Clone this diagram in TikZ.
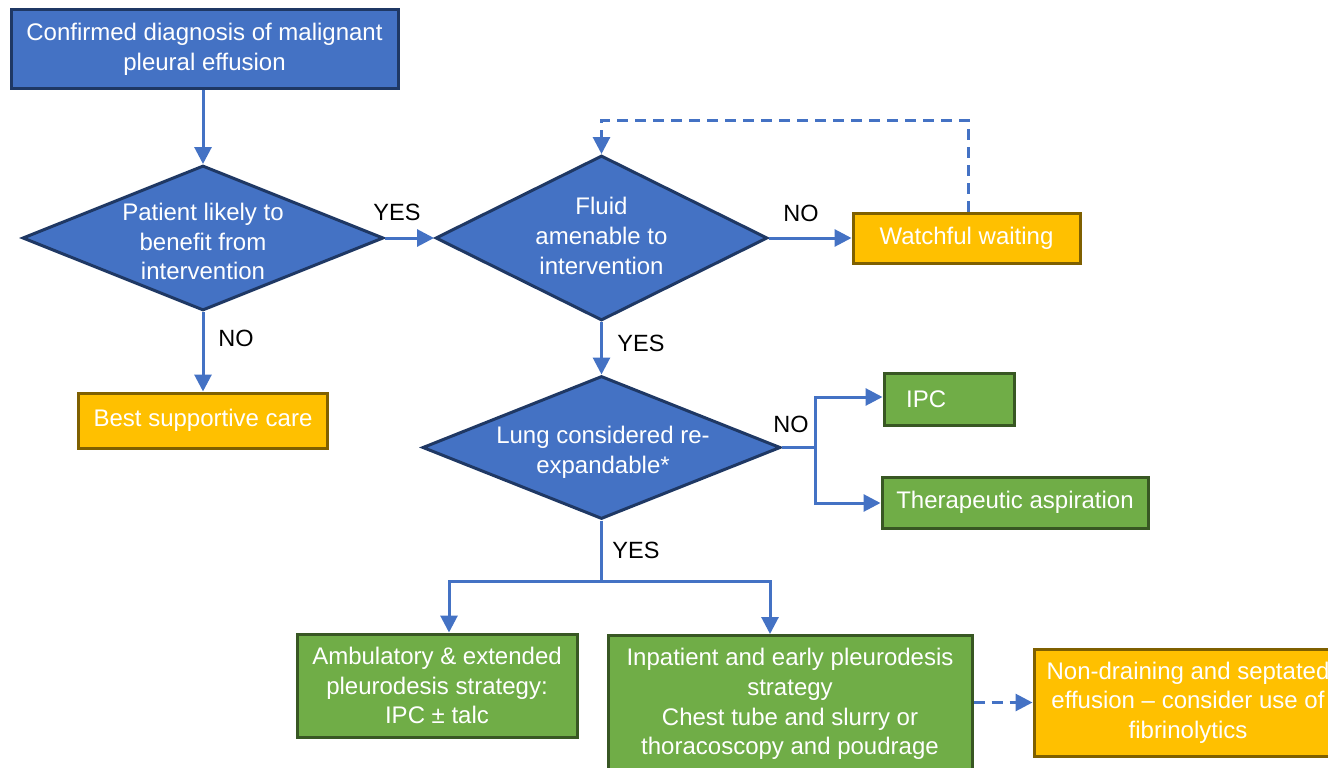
\documentclass[tikz,border=0pt]{standalone}
\usepackage{fontspec}
\setmainfont{Liberation Sans}
\usetikzlibrary{shapes.geometric,arrows.meta}
\definecolor{bfill}{HTML}{4472C4}
\definecolor{bdark}{HTML}{1F3864}
\definecolor{ofill}{HTML}{FFC000}
\definecolor{odark}{HTML}{7F6000}
\definecolor{gfill}{HTML}{70AD47}
\definecolor{gdark}{HTML}{385723}
\tikzset{
  base/.style={draw, line width=3pt, inner sep=0pt, text=white, align=center,
    font=\fontsize{24}{29.6}\selectfont},
  bluebox/.style={base, rectangle, fill=bfill, draw=bdark},
  orangebox/.style={base, rectangle, fill=ofill, draw=odark},
  greenbox/.style={base, rectangle, fill=gfill, draw=gdark},
  decision/.style={draw=bdark, fill=bfill, line width=3pt, shape=diamond, inner sep=0pt},
  dtext/.style={text=white, align=center, font=\fontsize{24}{29.6}\selectfont, inner sep=0pt},
  lbl/.style={text=black, font=\fontsize{23.5}{28}\selectfont, inner sep=0pt},
  arr/.style={draw=bfill, line width=3pt, -{Triangle[length=17pt,width=17pt]}},
  ln/.style={draw=bfill, line width=3pt},
  dsh/.style={dash pattern=on 11pt off 7pt}
}
\begin{document}
\begin{tikzpicture}[x=1pt,y=-1pt]
\useasboundingbox (0,0) rectangle (1328,768);
\clip (0,0) rectangle (1328,768);

% nodes
\node[bluebox, minimum width=387pt, minimum height=78pt] (box1) at (204.5,49)
  {\raisebox{-2pt}{\parbox{380pt}{\centering Confirmed diagnosis of malignant\\pleural effusion}}};

\node[decision, minimum width=361pt, minimum height=145pt] (d1) at (203,238) {};
\node[dtext] (t1) at (203,241.5) {Patient likely to\\benefit from\\intervention};

\node[decision, minimum width=332pt, minimum height=165pt] (d2) at (601.5,238) {};
\node[dtext] (t2) at (601.5,236) {Fluid\\amenable to\\intervention};

\node[orangebox, minimum width=227pt, minimum height=50pt] (ww) at (966.5,238) {\raisebox{-1.5pt}{Watchful waiting}};

\node[orangebox, minimum width=249pt, minimum height=55pt] (bsc) at (203,420.5) {\raisebox{-1.5pt}{Best supportive care}};

\node[decision, minimum width=358pt, minimum height=143pt] (d3) at (601.5,447.5) {};
\node[dtext] (t3) at (603,452) {Lung considered re-\\expandable*};

\node[greenbox, minimum width=130pt, minimum height=52pt] (ipc) at (949,399) {};
\node[dtext, anchor=west] (ipct) at (906,399) {IPC};

\node[greenbox, minimum width=266pt, minimum height=51pt] (ta) at (1015,502.5) {\raisebox{-1.5pt}{Therapeutic aspiration}};

\node[greenbox, minimum width=280pt, minimum height=103pt] (amb) at (437,685.5)
  {\raisebox{-1.5pt}{\parbox{276pt}{\centering Ambulatory \& extended\\pleurodesis strategy:\\IPC ± talc}}};

\node[greenbox, minimum width=364pt, minimum height=137pt] (inp) at (790,704)
  {\parbox{360pt}{\centering Inpatient and early pleurodesis\\strategy\\Chest tube and slurry or\\thoracoscopy and poudrage}};

\node[orangebox, minimum width=308pt, minimum height=107pt] (nd) at (1188,702.5)
  {\raisebox{-1.5pt}{\parbox{304pt}{\centering Non-draining and septated\\effusion – consider use of\\fibrinolytics}}};

% labels
\node[lbl] (l1) at (397,212) {YES};
\node[lbl] (l2) at (236,338) {NO};
\node[lbl] (l3) at (801,213) {NO};
\node[lbl] (l4) at (641,343) {YES};
\node[lbl] (l5) at (791,424) {NO};
\node[lbl] (l6) at (636,550) {YES};

% coordinates
\coordinate (loop) at (968,120);
\coordinate (br) at (815,447.5);
\coordinate (bj) at (601.5,581);

% connectors
\draw[arr] (box1.south -| d1.north) -- (d1.north);
\draw[arr] (d1.east) -- (d2.west);
\draw[arr] (d1.south) -- (bsc.north);
\draw[arr] (d2.east) -- (ww.west);
\draw[arr] (d2.south) -- (d3.north);
\draw[arr, dsh] (ww.north -| loop) -- (loop) -| (d2.north);
\draw[ln] (d3.east) -- (br);
\draw[arr] (br) |- (ipc.west |- 0,397);
\draw[arr] (br) |- (ta.west |- 0,503);
\draw[ln] (d3.south) -- (bj);
\draw[arr] (bj) -| ([xshift=12pt]amb.north);
\draw[arr] (bj) -| ([xshift=-20pt]inp.north);
\draw[arr, dsh] (inp.east |- nd.west) -- (nd.west);
\end{tikzpicture}
\end{document}
